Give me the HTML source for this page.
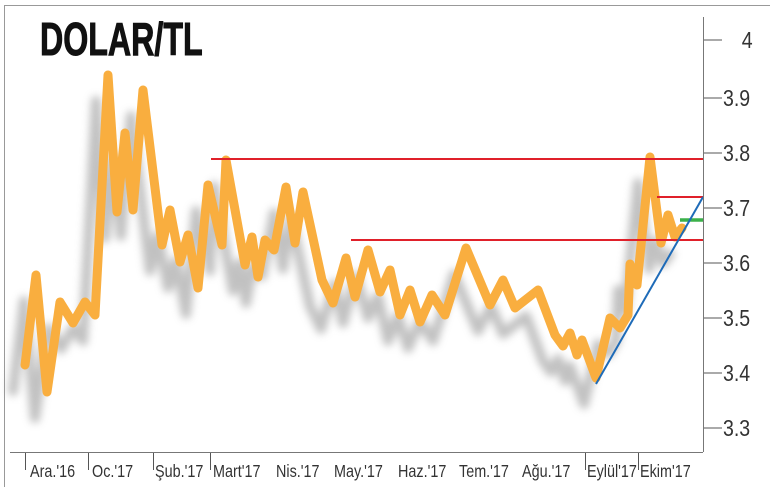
<!DOCTYPE html>
<html><head><meta charset="utf-8"><style>
body{margin:0;background:#fff}
svg{display:block}
text{font-family:"Liberation Sans Narrow","Liberation Sans",sans-serif}
</style></head><body>
<svg width="770" height="487" viewBox="0 0 770 487">
<defs><filter id="b" x="-10%" y="-10%" width="120%" height="120%"><feGaussianBlur stdDeviation="4"/></filter></defs>
<rect x="4.5" y="5.5" width="780" height="490" fill="none" stroke="#999" stroke-width="1"/>
<text x="40" y="55" font-size="46" font-weight="bold" fill="#111" transform="translate(40 0) scale(0.7 1) translate(-40 0)" stroke="#111" stroke-width="1">DOLAR/TL</text>
<polyline id="p" fill="none" stroke-linejoin="round" stroke-linecap="round" points="25,365 36,275 47,392 60,302 73,323 85,302 95,315 108,75 117,212 125,133 133,210 143,90 162,245 170,210 180,262 188,235 198,288 208,185 222,245 226,160 245,265 252,237 258,277 265,240 274,250 286,187 295,243 303,192 322,280 333,303 346,258 355,297 368,250 380,292 390,270 400,315 410,290 420,322 432,295 445,315 466,248 490,305 503,280 515,308 538,290 555,335 563,346 570,333 577,355 582,340 596,378 610,318 620,328 628,315 630,264 637,285 650,157 661,243 668,215 675,237 682,228"/>
<use href="#p" transform="translate(-12 26)" stroke="#999" stroke-width="10" opacity="0.6" filter="url(#b)"/>
<use href="#p" stroke="#f9ae3f" stroke-width="9"/>
<line x1="211" y1="159" x2="703" y2="159" stroke="#e0202a" stroke-width="2"/>
<line x1="351" y1="240" x2="703" y2="240" stroke="#e0202a" stroke-width="2"/>
<line x1="657" y1="197" x2="703" y2="197" stroke="#e0202a" stroke-width="2"/>
<line x1="680" y1="220" x2="703" y2="220" stroke="#3bb14a" stroke-width="3.5"/>
<line x1="596" y1="384" x2="703" y2="197" stroke="#1e6bb8" stroke-width="2"/>
<line x1="703.5" y1="17" x2="703.5" y2="452" stroke="#777" stroke-width="1"/>
<line x1="10" y1="452.5" x2="703" y2="452.5" stroke="#777" stroke-width="1"/>
<g stroke="#555" stroke-width="1">
<line x1="704" y1="40" x2="722" y2="40"/><line x1="704" y1="98" x2="722" y2="98"/><line x1="704" y1="153" x2="722" y2="153"/><line x1="704" y1="208" x2="722" y2="208"/><line x1="704" y1="263" x2="722" y2="263"/><line x1="704" y1="318" x2="722" y2="318"/><line x1="704" y1="373" x2="722" y2="373"/><line x1="704" y1="428" x2="722" y2="428"/>
<line x1="25.5" y1="453" x2="25.5" y2="470"/><line x1="88.5" y1="453" x2="88.5" y2="470"/><line x1="153.5" y1="453" x2="153.5" y2="470"/><line x1="210.5" y1="453" x2="210.5" y2="470"/><line x1="585.5" y1="453" x2="585.5" y2="470"/><line x1="638.5" y1="453" x2="638.5" y2="470"/>
</g>
<g font-size="23" fill="#333" transform="translate(723 0) scale(0.85 1) translate(-723 0)">
<text x="745" y="48">4</text><text x="723" y="106">3.9</text><text x="723" y="161">3.8</text><text x="723" y="216">3.7</text><text x="723" y="271">3.6</text><text x="723" y="326">3.5</text><text x="723" y="381">3.4</text><text x="723" y="436">3.3</text>
</g>
<g font-size="18" fill="#333">
<text transform="translate(30 477) scale(0.8 1)">Ara.'16</text><text transform="translate(92 477) scale(0.8 1)">Oc.'17</text><text transform="translate(155 477) scale(0.8 1)">Şub.'17</text><text transform="translate(213 477) scale(0.8 1)">Mart'17</text><text transform="translate(276 477) scale(0.8 1)">Nis.'17</text><text transform="translate(334 477) scale(0.8 1)">May.'17</text><text transform="translate(398 477) scale(0.8 1)">Haz.'17</text><text transform="translate(459 477) scale(0.8 1)">Tem.'17</text><text transform="translate(522 477) scale(0.8 1)">Ağu.'17</text><text transform="translate(587 477) scale(0.8 1)">Eylül'17</text><text transform="translate(640 477) scale(0.8 1)">Ekim'17</text>
</g>
</svg>
</body></html>
